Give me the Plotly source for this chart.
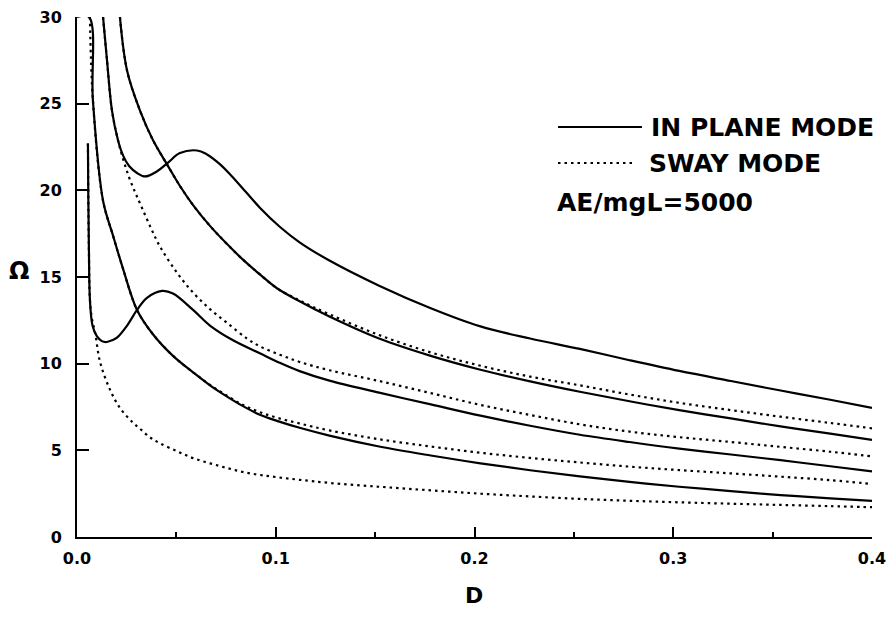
import plotly.graph_objects as go

# ---------------- data ----------------
# Sway (out-of-plane) modes, dotted
sway1_D = [0.0055, 0.0057, 0.006, 0.0065, 0.0075, 0.0091, 0.0116, 0.0166, 0.0216, 0.0277, 0.0317,
           0.0367, 0.0418, 0.0503, 0.0584, 0.0669, 0.0755, 0.0835, 0.092, 0.1006, 0.112, 0.127,
           0.152, 0.178, 0.203, 0.228, 0.253, 0.278, 0.303, 0.329, 0.354, 0.379, 0.4]
sway1_W = [22.7, 19.5, 16.5, 13.7, 12.6, 11.8, 10.1, 8.5, 7.45, 6.65, 6.25,
           5.75, 5.4, 4.95, 4.55, 4.25, 3.98, 3.75, 3.58, 3.45, 3.3, 3.12,
           2.9, 2.69, 2.5, 2.34, 2.2, 2.09, 2.0, 1.92, 1.85, 1.78, 1.72]

sway2_D = [0.0065, 0.008, 0.0131, 0.0181, 0.0231, 0.0302, 0.0382, 0.0483, 0.0584, 0.0669, 0.0755,
           0.0835, 0.092, 0.1006, 0.112, 0.127, 0.152, 0.178, 0.203, 0.228, 0.253, 0.278, 0.303,
           0.329, 0.354, 0.379, 0.4]
sway2_W = [30.0, 25.2, 19.4, 17.4, 15.5, 13.1, 11.7, 10.45, 9.5, 8.78, 8.15,
           7.62, 7.2, 6.88, 6.55, 6.15, 5.64, 5.22, 4.86, 4.56, 4.3, 4.06, 3.86,
           3.67, 3.48, 3.28, 3.06]

sway3_D = [0.0131, 0.0151, 0.0176, 0.0206, 0.0232, 0.0262, 0.0292, 0.0317, 0.0367, 0.0418, 0.0503,
           0.0584, 0.0669, 0.0755, 0.0855, 0.092, 0.102, 0.112, 0.127, 0.152, 0.178, 0.203, 0.228,
           0.253, 0.278, 0.303, 0.329, 0.354, 0.379, 0.4]
sway3_W = [30.0, 27.5, 24.6, 22.9, 21.8, 20.75, 19.9, 19.25, 17.95, 16.75, 15.25,
           14.1, 13.15, 12.35, 11.45, 11.0, 10.52, 10.1, 9.62, 9.0, 8.3, 7.62, 7.04,
           6.5, 6.08, 5.76, 5.48, 5.2, 4.92, 4.65]

sway4_D = [0.0216, 0.0252, 0.0317, 0.0382, 0.0458, 0.0518, 0.0584, 0.0669, 0.0755, 0.0835, 0.092,
           0.1006, 0.112, 0.127, 0.152, 0.178, 0.203, 0.228, 0.253, 0.278, 0.303, 0.329, 0.354,
           0.379, 0.4]
sway4_W = [30.0, 26.9, 24.6, 22.9, 21.4, 20.25, 19.15, 17.95, 16.9, 16.0, 15.15,
           14.35, 13.65, 12.85, 11.65, 10.65, 9.88, 9.25, 8.75, 8.22, 7.74, 7.32, 6.94,
           6.58, 6.27]

# In-plane modes, solid
inp1_D = [0.0, 0.006, 0.008, 0.0131, 0.0181, 0.0231, 0.0302, 0.0382, 0.0483, 0.0584, 0.0669,
          0.0755, 0.0835, 0.092, 0.1006, 0.112, 0.127, 0.152, 0.178, 0.203, 0.228, 0.253,
          0.278, 0.303, 0.329, 0.354, 0.379, 0.4]
inp1_W = [30.0, 30.0, 25.2, 19.4, 17.4, 15.5, 13.1, 11.7, 10.45, 9.5, 8.75,
          8.1, 7.55, 7.05, 6.7, 6.3, 5.85, 5.22, 4.7, 4.25, 3.85, 3.5,
          3.18, 2.9, 2.65, 2.42, 2.23, 2.08]

inp2_D = [0.0055, 0.0057, 0.006, 0.0065, 0.0078, 0.0099, 0.0125, 0.0149, 0.0176, 0.0201, 0.0252,
          0.0302, 0.0352, 0.0428, 0.0483, 0.0584, 0.0669, 0.0785, 0.092, 0.102, 0.112, 0.127,
          0.152, 0.178, 0.203, 0.228, 0.253, 0.278, 0.303, 0.329, 0.354, 0.379, 0.4]
inp2_W = [22.7, 19.5, 16.5, 13.7, 12.2, 11.6, 11.3, 11.25, 11.35, 11.5, 12.2,
          13.1, 13.8, 14.2, 14.05, 13.1, 12.2, 11.35, 10.6, 10.05, 9.57, 9.02,
          8.33, 7.65, 7.0, 6.42, 5.9, 5.48, 5.1, 4.76, 4.43, 4.08, 3.78]

inp3_D = [0.0216, 0.0252, 0.0317, 0.0382, 0.0458, 0.0518, 0.0584, 0.0669, 0.0755, 0.0835, 0.092,
          0.1006, 0.112, 0.127, 0.152, 0.178, 0.203, 0.228, 0.253, 0.278, 0.303, 0.329, 0.354,
          0.379, 0.4]
inp3_W = [30.0, 26.9, 24.6, 22.9, 21.4, 20.25, 19.15, 17.95, 16.9, 16.0, 15.15,
          14.35, 13.6, 12.72, 11.45, 10.45, 9.65, 8.98, 8.38, 7.83, 7.32, 6.84, 6.38,
          5.96, 5.6]

inp4_D = [0.0131, 0.0151, 0.0176, 0.0206, 0.0232, 0.0262, 0.0302, 0.0342, 0.0403, 0.0458, 0.0518,
          0.0604, 0.065, 0.072, 0.078, 0.085, 0.092, 0.102, 0.112, 0.127, 0.152, 0.178, 0.203,
          0.228, 0.253, 0.278, 0.303, 0.329, 0.354, 0.379, 0.4]
inp4_W = [30.0, 27.5, 24.6, 22.9, 22.0, 21.4, 21.0, 20.8, 21.1, 21.6, 22.15,
          22.3, 22.1, 21.5, 20.8, 19.9, 19.0, 17.9, 17.0, 15.95, 14.5, 13.2, 12.15,
          11.45, 10.85, 10.2, 9.58, 9.0, 8.45, 7.92, 7.45]

x_ticks = [0.0, 0.1, 0.2, 0.3, 0.4]
y_ticks = [0, 5, 10, 15, 20, 25, 30]

legend_labels = ["IN PLANE MODE", "SWAY MODE"]
param_label = "AE/mgL=5000"

# ---------------- figure ----------------
FONT = "DejaVu Sans"
fig = go.Figure()

dotted = dict(color="black", width=2.2, dash="2.5px,4px", shape="spline", smoothing=1.0)
solid = dict(color="black", width=2.2, shape="spline", smoothing=1.0)

for dx, wy in [(sway1_D, sway1_W), (sway2_D, sway2_W), (sway3_D, sway3_W), (sway4_D, sway4_W)]:
    fig.add_trace(go.Scatter(x=dx, y=wy, mode="lines", line=dotted, showlegend=False,
                             hoverinfo="skip"))
for dx, wy in [(inp1_D, inp1_W), (inp2_D, inp2_W), (inp3_D, inp3_W), (inp4_D, inp4_W)]:
    fig.add_trace(go.Scatter(x=dx, y=wy, mode="lines", line=solid, showlegend=False,
                             hoverinfo="skip"))

# plot area at page x 77..872, y 17..537 (body margin removed in post_script)
W, H = 889, 617
L, R, T, B = 77, 17, 17, 80
PL, PT = L, T
PW, PH = W - L - R, H - T - B


def px(x):
    return (x - PL) / PW


def py(y):
    return (PT + PH - y) / PH


LEG_FONT = dict(family=FONT, size=25, color="black", weight="bold")
# legend drawn as shapes + text
fig.add_shape(type="line", xref="paper", yref="paper", x0=px(558), x1=px(642), y0=py(127), y1=py(127),
              line=dict(color="black", width=2.2))
fig.add_shape(type="line", xref="paper", yref="paper", x0=px(558), x1=px(632), y0=py(163), y1=py(163),
              line=dict(color="black", width=2.2, dash="2.5px,4px"))
fig.add_annotation(xref="paper", yref="paper", x=px(649), y=py(127), text=legend_labels[0],
                   showarrow=False, xanchor="left", yanchor="middle", font=LEG_FONT)
fig.add_annotation(xref="paper", yref="paper", x=px(647), y=py(163), text=legend_labels[1],
                   showarrow=False, xanchor="left", yanchor="middle", font=LEG_FONT)
fig.add_annotation(xref="paper", yref="paper", x=px(555), y=py(203), text=param_label,
                   showarrow=False, xanchor="left", yanchor="middle", font=LEG_FONT)

# axis titles
fig.add_annotation(xref="paper", yref="paper", x=px(474), y=py(595), text="D", showarrow=False,
                   xanchor="center", yanchor="middle",
                   font=dict(family=FONT, size=22, color="black", weight="bold"))
fig.add_annotation(xref="paper", yref="paper", x=px(19), y=py(271), text="Ω", showarrow=False,
                   xanchor="center", yanchor="middle",
                   font=dict(family=FONT, size=24, color="black", weight="bold"))

fig.update_xaxes(range=[0, 0.4], tickvals=x_ticks, ticktext=[f"{v:.1f}" for v in x_ticks],
                 showline=True, linecolor="black", linewidth=2, ticks="inside", ticklen=10,
                 tickwidth=2, tickcolor="black", showgrid=False, zeroline=False, automargin=False,
                 tickfont=dict(family=FONT, size=16, color="black", weight="bold"),
                 ticklabelstandoff=6, ticklabeloverflow="allow",
                 minor=dict(tickvals=[0.05, 0.15, 0.25, 0.35], ticks="inside", ticklen=5,
                            tickwidth=2, tickcolor="black", showgrid=False))
fig.update_yaxes(range=[0, 30], tickvals=y_ticks, ticktext=[str(v) for v in y_ticks],
                 showline=True, linecolor="black", linewidth=2, ticks="inside", ticklen=12,
                 tickwidth=2, tickcolor="black", showgrid=False, zeroline=False, automargin=False,
                 tickfont=dict(family=FONT, size=16, color="black", weight="bold"),
                 ticklabelstandoff=10, ticklabeloverflow="allow")

fig.update_layout(width=W, height=H, margin=dict(l=L, r=R, t=T, b=B, pad=0),
                  paper_bgcolor="white", plot_bgcolor="white", showlegend=False)

fig.write_html("out.html", config={"displayModeBar": False},
               post_script="document.body.style.margin='0px';document.body.style.overflow='hidden';")
